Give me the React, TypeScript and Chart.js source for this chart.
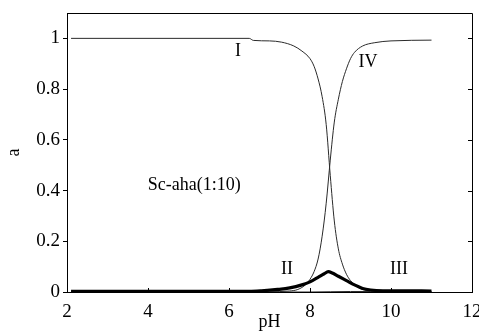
import { useEffect, useRef } from "react";
import { Chart, registerables } from "chart.js";

Chart.register(...registerables);

// Species I
const phI = [2.1, 6.5, 6.6, 7.0, 7.3, 7.6, 7.8, 8.0, 8.1, 8.2, 8.3, 8.4, 8.5, 8.6, 8.7, 8.8, 8.9, 9.0, 9.2, 9.4, 9.6, 10.0, 11.0];
const aI = [1.0, 1.0, 0.992, 0.99, 0.985, 0.97, 0.95, 0.92, 0.89, 0.84, 0.77, 0.66, 0.46, 0.28, 0.17, 0.11, 0.07, 0.045, 0.017, 0.006, 0.002, 0.0, 0.0];

// Species II (thick)
const phII = [2.1, 6.5, 6.8, 7.2, 7.5, 7.8, 8.0, 8.2, 8.35, 8.45, 8.55, 8.7, 8.9, 9.1, 9.3, 9.5, 9.8, 11.0];
const aII = [0.003, 0.003, 0.005, 0.01, 0.016, 0.028, 0.04, 0.058, 0.072, 0.08, 0.075, 0.062, 0.045, 0.028, 0.014, 0.008, 0.005, 0.004];

// Species III
const phIII = [2.1, 8.0, 8.5, 9.0, 9.5, 10.0, 11.0];
const aIII = [0.0, 0.0, 0.001, 0.002, 0.002, 0.002, 0.002];

// Species IV
const phIV = [6.5, 7.0, 7.5, 7.7, 7.9, 8.0, 8.1, 8.2, 8.3, 8.4, 8.5, 8.6, 8.7, 8.8, 8.9, 9.0, 9.1, 9.3, 9.6, 10.0, 11.0];
const aIV = [0.0, 0.001, 0.004, 0.01, 0.03, 0.05, 0.08, 0.13, 0.22, 0.35, 0.52, 0.67, 0.76, 0.83, 0.88, 0.92, 0.945, 0.97, 0.983, 0.99, 0.993];

// Annotations
const labelTexts = ["I", "II", "III", "IV", "Sc-aha(1:10)"];
const labelX = [6.22, 7.43, 10.2, 9.43, 5.14];
const labelY = [0.95, 0.09, 0.09, 0.905, 0.42];

const xTitle = "pH";
const yTitle = "a";

const FONT = "'Liberation Serif', 'Times New Roman', serif";

const toPts = (xs: number[], ys: number[]) => xs.map((x, i) => ({ x, y: ys[i] }));

const framePlugin = {
  id: "frame",
  afterDraw(chart: any) {
    const { ctx, chartArea } = chart;
    const xs = chart.scales.x;
    const ys = chart.scales.y;
    ctx.save();
    ctx.strokeStyle = "#000";
    ctx.lineWidth = 1;
    ctx.beginPath();
    ctx.moveTo(chartArea.left, chartArea.top + 0.5);
    ctx.lineTo(chartArea.right + 0.5, chartArea.top + 0.5);
    ctx.lineTo(chartArea.right + 0.5, chartArea.bottom);
    ys.ticks.forEach((t: any) => {
      const py = Math.round(ys.getPixelForValue(t.value)) + 0.5;
      ctx.moveTo(chartArea.right - 4, py);
      ctx.lineTo(chartArea.right, py);
    });
    xs.ticks.forEach((t: any) => {
      const px = Math.round(xs.getPixelForValue(t.value)) + 0.5;
      ctx.moveTo(px, chartArea.bottom);
      ctx.lineTo(px, chartArea.bottom - 4);
    });
    ctx.stroke();

    ctx.fillStyle = "#000";
    ctx.font = `18px ${FONT}`;
    ctx.textAlign = "center";
    ctx.textBaseline = "middle";
    labelTexts.forEach((txt, i) => {
      ctx.fillText(txt, xs.getPixelForValue(labelX[i]), ys.getPixelForValue(labelY[i]));
    });
    ctx.restore();
  },
};

export default function App() {
  const ref = useRef<HTMLCanvasElement | null>(null);
  useEffect(() => {
    document.body.style.margin = "0";
    if (!ref.current) return;
    const thin = "#2a2a2a";
    const chart = new Chart(ref.current, {
      type: "line",
      data: {
        datasets: [
          { label: "II", data: toPts(phII, aII), borderColor: "#000", borderWidth: 3.2, pointRadius: 0, cubicInterpolationMode: "monotone", fill: false },
          { label: "I", data: toPts(phI, aI), borderColor: thin, borderWidth: 1, pointRadius: 0, cubicInterpolationMode: "monotone", fill: false },
          { label: "III", data: toPts(phIII, aIII), borderColor: thin, borderWidth: 1, pointRadius: 0, cubicInterpolationMode: "monotone", fill: false },
          { label: "IV", data: toPts(phIV, aIV), borderColor: thin, borderWidth: 1, pointRadius: 0, cubicInterpolationMode: "monotone", fill: false },
        ],
      },
      options: {
        responsive: false,
        animation: false,
        layout: { padding: { top: 13, right: 7, left: 0, bottom: 0 } },
        plugins: { legend: { display: false }, tooltip: { enabled: false } },
        scales: {
          x: {
            type: "linear",
            min: 2,
            max: 12,
            ticks: { stepSize: 2, color: "#000", font: { family: FONT, size: 19 }, padding: 1, maxRotation: 0 },
            grid: { display: false },
            border: { display: true, color: "#000", width: 1 },
            title: { display: true, text: xTitle, color: "#000", font: { family: FONT, size: 18, lineHeight: 1 }, padding: { top: 0, bottom: 0 } },
            afterFit(s: any) {
              s.height = 39;
              s.paddingLeft = 0;
              s.paddingRight = 0;
            },
          },
          y: {
            min: 0,
            max: 1.1,
            ticks: {
              stepSize: 0.1,
              color: "#000",
              font: { family: FONT, size: 19 },
              padding: 3,
              callback: (v: any) => {
                const k = Math.round(Number(v) * 10);
                return k % 2 === 0 && k <= 10 ? String(k / 10) : "";
              },
            },
            grid: { display: true, drawOnChartArea: false, drawTicks: true, tickLength: 4, color: "#000", lineWidth: 1 },
            border: { display: true, color: "#000", width: 1 },
            title: { display: true, text: yTitle, color: "#000", font: { family: FONT, size: 18 }, padding: { top: 3, bottom: 0 } },
            afterFit(s: any) {
              s.width = 67;
              s.paddingTop = 0;
              s.paddingBottom = 0;
            },
          },
        },
      },
      plugins: [framePlugin],
    } as any);
    return () => chart.destroy();
  }, []);
  return (
    <div style={{ width: 479, height: 331 }}>
      <canvas ref={ref} width={479} height={331} style={{ display: "block", width: 479, height: 331 }} />
    </div>
  );
}
